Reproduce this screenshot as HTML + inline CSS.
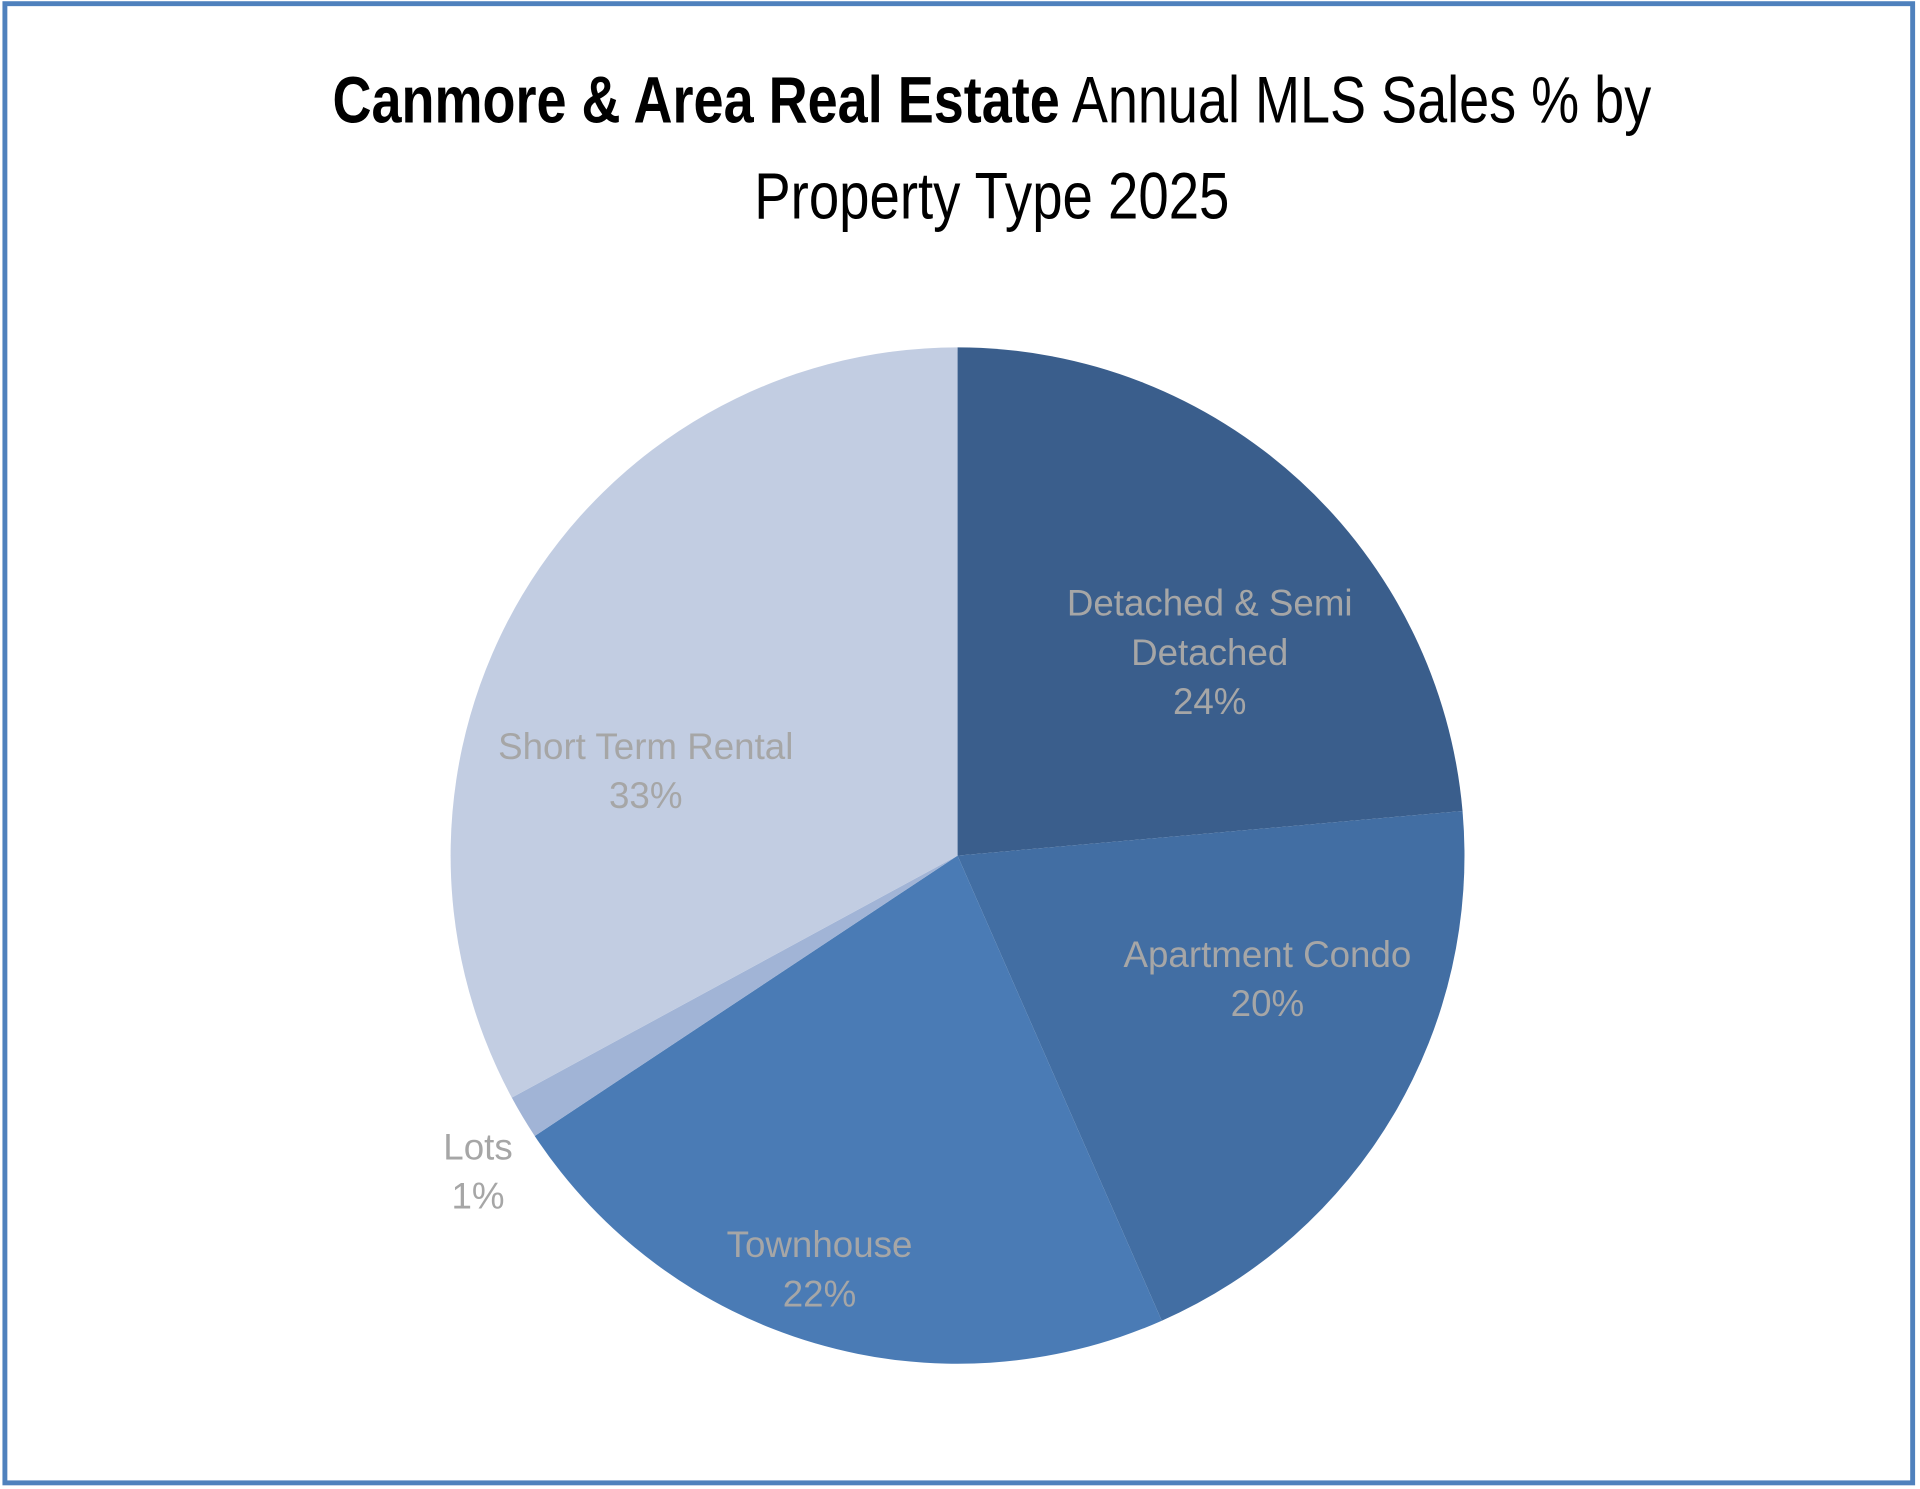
<!DOCTYPE html>
<html><head><meta charset="utf-8">
<style>
html,body{margin:0;padding:0;background:#fff;}
svg{display:block;}
</style></head>
<body>
<svg id="chart" width="1920" height="1489" viewBox="0 0 1568 1213" preserveAspectRatio="none" xmlns="http://www.w3.org/2000/svg">
  <rect x="4" y="3" width="1558" height="1205" fill="#fff" stroke="#4f81bd" stroke-width="4"/>
  <text x="810" y="100" text-anchor="middle" font-family="'Liberation Sans Narrow','Liberation Sans',sans-serif" font-size="54" textLength="1077" lengthAdjust="spacingAndGlyphs"><tspan font-weight="bold">Canmore &amp; Area Real Estate</tspan> Annual MLS Sales % by</text>
  <text x="810" y="178" text-anchor="middle" font-family="'Liberation Sans Narrow','Liberation Sans',sans-serif" font-size="54" textLength="388" lengthAdjust="spacingAndGlyphs">Property Type 2025</text>
  <g id="slices"></g>
  <g id="labels"></g>
</svg>
<script>
const categories = ["Detached & Semi Detached", "Apartment Condo", "Townhouse", "Lots", "Short Term Rental"];
const values = [23.6, 19.8, 22.3, 1.4, 32.9];
const colors = ["#3a5e8c", "#426ea3", "#4a7bb5", "#a1b4d6", "#c2cde2"];
const labelLines = [["Detached & Semi", "Detached"], ["Apartment Condo"], ["Townhouse"], ["Lots"], ["Short Term Rental"]];
const labelOffsetX = [27, 25, -38, 6, -27];
const labelOffsetY = [30, -34, 83, 19, 67];

const cx = 782, cy = 697, R = 414;
const NS = "http://www.w3.org/2000/svg";
const total = values.reduce((a, b) => a + b, 0);
function pt(frac, r) {
  const a = frac * 2 * Math.PI;
  return [cx + r * Math.sin(a), cy - r * Math.cos(a)];
}
const gS = document.getElementById("slices");
const gL = document.getElementById("labels");
let cum = 0;
values.forEach((v, i) => {
  const f0 = cum / total, f1 = (cum + v) / total;
  cum += v;
  const p0 = pt(f0, R), p1 = pt(f1, R);
  const large = (f1 - f0) > 0.5 ? 1 : 0;
  const path = document.createElementNS(NS, "path");
  path.setAttribute("d", `M${cx},${cy} L${p0[0]},${p0[1]} A${R},${R} 0 ${large} 1 ${p1[0]},${p1[1]} Z`);
  path.setAttribute("fill", colors[i]);
  
  
  gS.appendChild(path);

  const mid = (f0 + f1) / 2;
  const outside = v / total < 0.03;
  const lp = pt(mid, outside ? R * 1.12 : R * 0.64);
  const lx = lp[0] + labelOffsetX[i], ly = lp[1] + labelOffsetY[i];
  const lines = labelLines[i].concat([Math.round(v / total * 100) + "%"]);
  const t = document.createElementNS(NS, "text");
  
  
  t.setAttribute("text-anchor", "middle");
  t.setAttribute("font-family", "'Liberation Sans',sans-serif");
  t.setAttribute("font-size", "30");
  t.setAttribute("fill", "#a6a6a6");
  const lh = 40;
  const y0 = ly - (lines.length - 1) * lh / 2 + 10;
  lines.forEach((s, k) => {
    const ts = document.createElementNS(NS, "tspan");
    ts.setAttribute("x", lx);
    ts.setAttribute("y", y0 + k * lh);
    ts.textContent = s;
    t.appendChild(ts);
  });
  gL.appendChild(t);
});
</script>
</body></html>
